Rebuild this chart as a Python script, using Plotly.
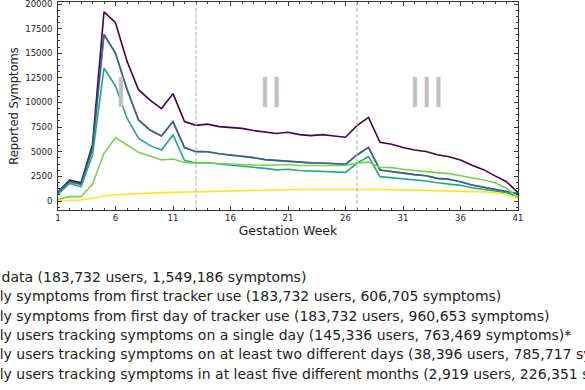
import plotly.graph_objects as go

weeks = list(range(1, 42))

series_names = [
    "All data (183,732 users, 1,549,186 symptoms)",
    "Only symptoms from first tracker use (183,732 users, 606,705 symptoms)",
    "Only symptoms from first day of tracker use (183,732 users, 960,653 symptoms)",
    "Only users tracking symptoms on a single day (145,336 users, 763,469 symptoms)*",
    "Only users tracking symptoms on at least two different days (38,396 users, 785,717 symptoms)",
    "Only users tracking symptoms in at least five different months (2,919 users, 226,351 symptoms)",
]

all_data = [900, 2130, 1860, 5700, 19200, 18100, 14200, 11300, 10250, 9380,
            10900, 8060, 7680, 7800, 7550, 7450, 7370, 7150, 6990, 6850,
            6980, 6740, 6640, 6740, 6600, 6470, 7650, 8480, 5950, 5760,
            5440, 5170, 5030, 4700, 4500, 4170, 3620, 3180, 2550, 1960, 850]

first_use = [850, 1960, 1690, 5350, 16900, 15000, 11350, 8230, 7210, 6600,
             8060, 5420, 5010, 5000, 4800, 4670, 4560, 4400, 4200, 4110,
             4090, 3950, 3870, 3860, 3760, 3720, 4670, 5450, 3150, 2980,
             2810, 2680, 2570, 2300, 2200, 1960, 1630, 1390, 1220, 950, 760]

first_day = [850, 1960, 1690, 5350, 16900, 15000, 11350, 8230, 7210, 6600,
             8060, 5420, 5010, 5000, 4800, 4670, 4560, 4400, 4200, 4110,
             4090, 3950, 3870, 3860, 3760, 3720, 4670, 5450, 3150, 2980,
             2810, 2680, 2570, 2300, 2200, 1960, 1630, 1390, 1220, 950, 760]

single_day = [700, 1790, 1450, 4670, 13480, 11680, 8400, 6370, 5620, 5180,
              6710, 4100, 3850, 3880, 3750, 3640, 3580, 3410, 3310, 3160,
              3220, 3090, 3050, 3040, 2950, 2910, 3830, 4500, 2470, 2370,
              2230, 2130, 2030, 1860, 1760, 1590, 1350, 1180, 1050, 840, 440]

two_days = [170, 440, 440, 1690, 4840, 6430, 5690, 4940, 4570, 4170,
            4270, 3900, 3830, 3900, 3800, 3730, 3700, 3660, 3630, 3630,
            3700, 3600, 3590, 3620, 3620, 3620, 3850, 3950, 3420, 3390,
            3220, 3080, 2980, 2880, 2780, 2570, 2370, 2130, 1860, 1290, 350]

five_months = [30, 100, 100, 280, 510, 640, 710, 770, 810, 850,
               880, 910, 950, 1000, 1040, 1060, 1080, 1100, 1120, 1140,
               1150, 1170, 1180, 1180, 1190, 1190, 1200, 1220, 1170, 1150,
               1130, 1110, 1090, 1070, 1050, 1020, 980, 930, 850, 680, 200]

series_values = [all_data, first_use, first_day, single_day, two_days, five_months]
colors = ["#440154", "#414487", "#2a788e", "#22a884", "#7ad151", "#fde725"]
opacities = [1, 1, 0.55, 1, 1, 1]

trimester_bounds = [13, 27]
trimester_labels = ["I", "II", "III"]
trimester_label_x = [6.5, 19.5, 33.0]
trimester_label_y = 11000

x_ticks = [1, 6, 11, 16, 21, 26, 31, 36, 41]
y_ticks = [0, 2500, 5000, 7500, 10000, 12500, 15000, 17500, 20000]

FONT = "DejaVu Sans"

fig = go.Figure()
for name, vals, col, op in zip(series_names, series_values, colors, opacities):
    fig.add_trace(go.Scatter(x=weeks, y=vals, mode="lines",
                             name="<span style='font-size:14px'>" + name + "</span>",
                             line=dict(color=col, width=1.6), opacity=op))

for b in trimester_bounds:
    fig.add_shape(type="line", x0=b, x1=b, y0=0, y1=1, xref="x", yref="paper",
                  line=dict(color="#b0b0b0", width=1, dash="4px,2px"))

for lab, lx in zip(trimester_labels, trimester_label_x):
    fig.add_annotation(x=lx, y=trimester_label_y, text=lab, showarrow=False,
                       font=dict(family=FONT, size=40, color="#c0c0c0"),
                       xanchor="center", yanchor="middle")

axis_common = dict(
    showgrid=False, zeroline=False, showline=True, linecolor="#333333",
    linewidth=1, mirror="allticks", ticks="inside", ticklen=4,
    tickcolor="#333333", tickwidth=1, ticklabeloverflow="allow",
    tickfont=dict(family=FONT, size=8.5, color="#222222"),
)

fig.update_xaxes(range=[1, 41], tickvals=x_ticks, ticklabelstandoff=0,
                 minor=dict(dtick=1, tick0=1, ticks="inside", ticklen=2, tickcolor="#333333"),
                 title=dict(text="Gestation Week", font=dict(family=FONT, size=12.5, color="#222222"), standoff=4),
                 **axis_common)
fig.update_yaxes(range=[-914, 20203], tickvals=y_ticks, tickformat="d", ticklabelstandoff=3,
                 minor=dict(dtick=625, tick0=0, ticks="inside", ticklen=2, tickcolor="#333333"),
                 title=dict(text="Reported Symptoms", font=dict(family=FONT, size=11.5, color="#222222"), standoff=4),
                 **axis_common)

fig.update_layout(
    width=585, height=390,
    margin=dict(l=57.5, r=67, t=2, b=180, autoexpand=False),
    paper_bgcolor="white", plot_bgcolor="white",
    font=dict(family=FONT, color="#222222"),
    showlegend=True,
    legend=dict(x=-0.257, xanchor="left", y=-0.251, yanchor="top",
                font=dict(family=FONT, size=12.6, color="#222222"),
                bgcolor="rgba(0,0,0,0)", borderwidth=0, tracegroupgap=0),
)

fig.write_html("out.html", config={"displayModeBar": False},
               post_script="document.body.style.margin='0';document.body.style.overflow='hidden';")
